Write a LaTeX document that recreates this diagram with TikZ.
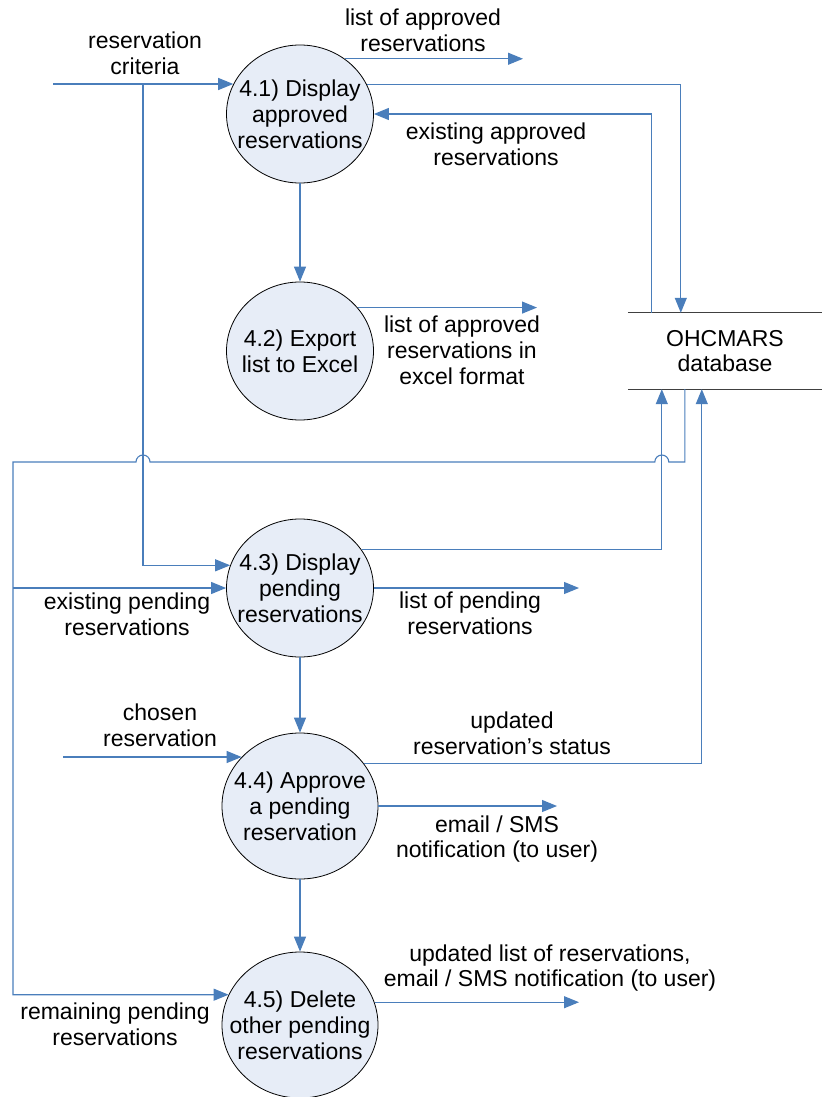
\documentclass[tikz,border=0pt]{standalone}
\usepackage{fontspec}
\setmainfont{Liberation Sans}
\usetikzlibrary{shapes.geometric,arrows.meta}
\definecolor{flowblue}{HTML}{4A7EBB}
\definecolor{procfill}{HTML}{E7EDF7}
\begin{document}
\begin{tikzpicture}[x=1pt, y=-1pt,
        every node/.style={font=\fontsize{23}{25.8}\selectfont, align=center, inner sep=0pt},
        process/.style={ellipse, draw=black, line width=0.8pt, fill=procfill, minimum width=147pt, minimum height=138pt, label=center:{#1}},
        bigprocess/.style={process={#1}, minimum width=156pt, minimum height=146pt},
        flow/.style={draw=flowblue, line width=1.1pt, -{Triangle[length=15pt, width=12pt]}},
        store/.style={draw=black!75, line width=1.2pt}]
            \useasboundingbox (0, 0) rectangle (822, 1097);

            \node[process={4.1) Display\\approved\\reservations}] (P1) at (300, 114) {};
            \node[process={4.2) Export\\list to Excel}] (P2) at (300, 351) {};
            \node[process={4.3) Display\\pending\\reservations}] (P3) at (300, 588) {};
            \node[bigprocess={4.4) Approve\\a pending\\reservation}] (P4) at (300, 806) {};
            \node[bigprocess={4.5) Delete\\other pending\\reservations}] (P5) at (300, 1025) {};

            \node[minimum width=194pt, minimum height=76pt] (DB) at (725, 351) {OHCMARS\\database};
            \draw[store] (DB.north west) -- (DB.north east);
            \draw[store] (DB.south west) -- (DB.south east);

            \coordinate (D1) at ([xshift=24pt]DB.north west);
            \coordinate (D2) at ([xshift=53pt]DB.north west);
            \coordinate (D3) at ([xshift=34pt]DB.south west);
            \coordinate (D4) at ([xshift=74pt]DB.south west);
            \coordinate (D5) at ([xshift=57pt]DB.south west);

            \coordinate (Cin) at (53, 84);
            \coordinate (Cbr) at (143, 84);
            \coordinate (Cho) at (63, 757);
            \coordinate (Bus) at (13, 462);
            \coordinate (H1) at (Bus -| Cbr);
            \coordinate (H2) at (Bus -| D3);
            \coordinate (A1) at (523, 59);
            \coordinate (A2) at (537, 309);
            \coordinate (A3) at (579, 588);
            \coordinate (A4) at (557, 806);
            \coordinate (A5) at (579, 1002);

            \node (Lcrit) at (145, 53) {reservation\\criteria};
            \node (Lapp) at (423, 30) {list of approved\\reservations};
            \node (Lexist) at (496, 144) {existing approved\\reservations};
            \node (Lexcel) at (462, 350) {list of approved\\reservations in\\excel format};
            \node (Lpend) at (470, 613) {list of pending\\reservations};
            \node (Lexpend) at (127, 614) {existing pending\\reservations};
            \node (Lchosen) at (160, 725) {chosen\\reservation};
            \node (Lstatus) at (512, 733) {updated\\reservation’s status};
            \node (Lmail) at (497, 839) {email / SMS\\notification (to user)};
            \node (Lupd) at (550, 968) {updated list of reservations,\\email / SMS notification (to user)};
            \node (Lremain) at (115, 1024) {remaining pending\\reservations};

            \draw[flow] (Cin) -- (Cin -| P1.156);
            \draw[flow] (Cbr) |- (P3.162);
            \draw[flow] (P1.51) -- (P1.51 -| A1);
            \draw[flow] (P1.24) -| (D2);
            \draw[flow] (D1) |- (P1.east);
            \draw[flow] (P1) -- (P2);
            \draw[flow] (P2.37) -- (P2.37 -| A2);
            \draw[flow] (D5) |- ([xshift=7pt]H2) arc[start angle=0, end angle=180, radius=7pt]
                -- ([xshift=7pt]H1) arc[start angle=0, end angle=180, radius=7pt]
                -- (Bus) |- (P5.157);
            \draw[flow] (Bus |- P3.west) -- (P3.west);
            \draw[flow] (P3.32) -| (D3);
            \draw[flow] (P3.east) -- (A3);
            \draw[flow] (P3) -- (P4);
            \draw[flow] (Cho) -- (Cho -| P4.140);
            \draw[flow] (P4.34) -| (D4);
            \draw[flow] (P4.east) -- (A4);
            \draw[flow] (P4) -- (P5);
            \draw[flow] (P5.17) -- (P5.17 -| A5);
        \end{tikzpicture}
\end{document}
